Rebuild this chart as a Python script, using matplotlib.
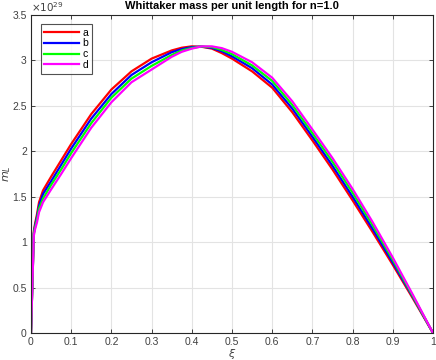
import matplotlib
matplotlib.use("Agg")
import matplotlib.pyplot as plt
from matplotlib.ticker import FuncFormatter

plt.rcParams['font.family'] = ['Liberation Sans', 'DejaVu Sans']
plt.rcParams['mathtext.fontset'] = 'dejavusans'

xi = [0, 0.007, 0.01, 0.015, 0.02, 0.03, 0.05, 0.075, 0.1, 0.15, 0.2, 0.25, 0.3,
      0.35, 0.375, 0.4, 0.425, 0.45, 0.475, 0.5, 0.55, 0.6, 0.65, 0.7, 0.75, 0.8,
      0.85, 0.9, 0.95, 1.0]

a = [0, 1.12, 1.20, 1.31, 1.44, 1.57, 1.72, 1.90, 2.08, 2.41, 2.68, 2.88, 3.02,
     3.11, 3.14, 3.155, 3.15, 3.13, 3.08, 3.02, 2.88, 2.70, 2.43, 2.12, 1.80, 1.46,
     1.11, 0.75, 0.38, 0]
b = [0, 1.10, 1.18, 1.28, 1.40, 1.53, 1.67, 1.85, 2.03, 2.36, 2.63, 2.84, 2.98,
     3.09, 3.125, 3.147, 3.152, 3.138, 3.10, 3.045, 2.915, 2.735, 2.47, 2.16, 1.84, 1.50,
     1.145, 0.775, 0.395, 0]
c = [0, 1.09, 1.16, 1.25, 1.37, 1.48, 1.63, 1.80, 1.98, 2.31, 2.59, 2.80, 2.94,
     3.06, 3.11, 3.138, 3.153, 3.147, 3.115, 3.07, 2.945, 2.775, 2.51, 2.20, 1.885, 1.545,
     1.185, 0.805, 0.405, 0]
d = [0, 1.07, 1.14, 1.22, 1.33, 1.44, 1.58, 1.75, 1.925, 2.26, 2.54, 2.76, 2.90,
     3.04, 3.095, 3.13, 3.155, 3.155, 3.135, 3.095, 2.98, 2.81, 2.55, 2.24, 1.925, 1.585,
     1.22, 0.83, 0.42, 0]

labels = ['a', 'b', 'c', 'd']
colors = ['#ff0000', '#0000ff', '#00ff00', '#ff00ff']
scale = 1e29

fig = plt.figure(figsize=(4.36, 3.6), dpi=100)
ax = fig.add_axes([0.0711, 0.075, 0.922, 0.8833])

for ys, lab, col in zip([a, b, c, d], labels, colors):
    ax.plot(xi, [v * scale for v in ys], color=col, lw=1.6, label=lab,
            solid_joinstyle='round')

ax.set_xlim(0, 1)
ax.set_ylim(0, 3.5e29)
ax.set_xticks([i / 10 for i in range(11)])
ax.set_yticks([i * 0.5e29 for i in range(8)])
ax.xaxis.set_major_formatter(FuncFormatter(lambda v, p: '%g' % round(v, 3)))
ax.yaxis.set_major_formatter(FuncFormatter(lambda v, p: '%g' % round(v / scale, 3)))
ax.text(0.0, 1.003, r'$\times 10^{29}$', transform=ax.transAxes, fontsize=7.5,
        color='#404040', ha='left', va='bottom')

edge = '#262626'
for s in ax.spines.values():
    s.set_color(edge)
    s.set_linewidth(0.8)
ax.tick_params(direction='in', top=True, right=True, length=3, width=0.6,
               labelsize=7.5, colors=edge, labelcolor='#404040', pad=3)
ax.grid(True, color='#e3e3e3', lw=0.8)
ax.set_axisbelow(True)

ax.set_title('Whittaker mass per unit length for n=1.0', fontsize=8, fontweight='bold', pad=4)
ax.set_xlabel(r'$\xi$', fontsize=8, color='#404040')
ax.set_ylabel(r'$m_L$', fontsize=8, color='#404040')
ax.xaxis.set_label_coords(0.5, -0.045)
ax.yaxis.set_label_coords(-0.046, 0.5)

leg = ax.legend(loc='upper left', bbox_to_anchor=(0.024, 0.972), fontsize=7.5,
                frameon=True, fancybox=False, handlelength=3.3, handletextpad=0.35,
                borderpad=0.35, labelspacing=0.08, borderaxespad=0)
leg.get_frame().set_edgecolor(edge)
leg.get_frame().set_linewidth(0.8)

fig.savefig('out.png', dpi=100)
